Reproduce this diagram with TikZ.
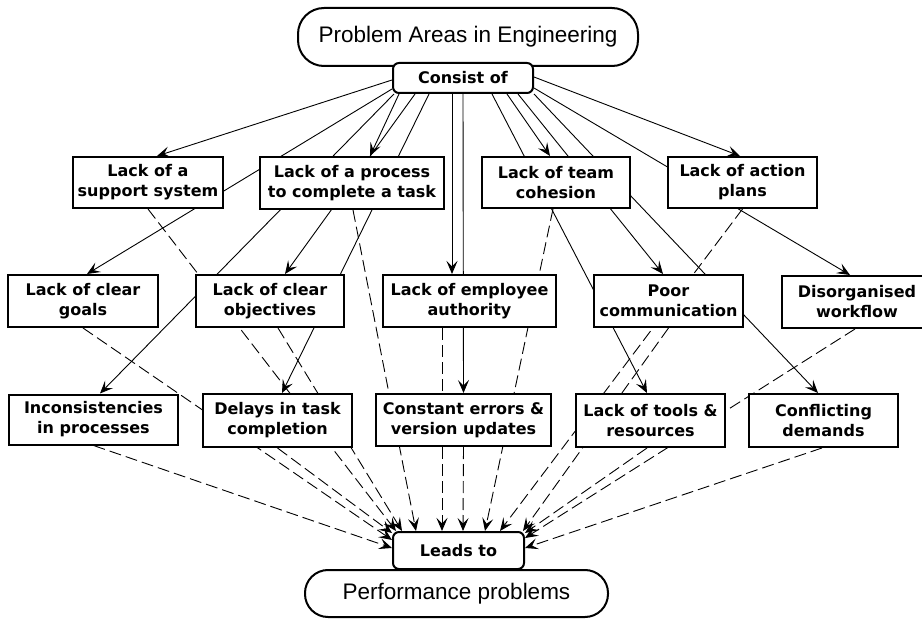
\documentclass[tikz,border=0pt]{standalone}
\usepackage{fontspec}
\newfontfamily\boxfont{DejaVu Sans}
\newfontfamily\titlefont{Liberation Sans}
\usetikzlibrary{arrows.meta,backgrounds,calc}

\begin{document}
\begin{tikzpicture}[x=1pt,y=-1pt,
  box/.style={draw, line width=2pt, fill=white, inner sep=0pt,
    minimum height=52pt, align=center,
    font=\boxfont\bfseries\fontsize{16}{20}\selectfont},
  linkbox/.style={box, rounded corners=6pt},
  headbox/.style={draw, line width=2pt, fill=white, inner sep=0pt,
    font=\titlefont\fontsize{22.5}{26}\selectfont},
  link/.style={line width=0.9pt, -{Stealth[length=13pt,width=11pt,inset=5.5pt]}},
  effect/.style={link, dash pattern=on 12pt off 5pt},
]
\useasboundingbox (0,0) rectangle (922,623);

% top and bottom terminal boxes
\node[headbox, rounded corners=26pt, minimum width=340pt, minimum height=58pt]
  (areas) at (468,37) {Problem Areas in Engineering};
\node[linkbox, minimum width=140pt, minimum height=30pt] (consist) at (463,78) {Consist of};

\node[headbox, rounded corners=23pt, minimum width=303pt, minimum height=47pt]
  (perf) at (456.5,593.5) {Performance problems};
\node[linkbox, minimum width=131pt, minimum height=37pt] (leads) at (458.5,550.5) {Leads to};

% first row
\node[box, minimum width=150pt, minimum height=51pt] (support) at (148,182.5) {Lack of a\\support system};
\node[box, minimum width=184pt] (process) at (352,183) {Lack of a process\\to complete a task};
\node[box, minimum width=148pt, minimum height=51pt] (cohesion) at (556,182.5) {Lack of team\\cohesion};
\node[box, minimum width=149pt, minimum height=51pt] (action) at (742.5,182.5) {Lack of action\\plans};

% second row
\node[box, minimum width=150pt] (goals) at (83,301) {Lack of clear\\goals};
\node[box, minimum width=148pt] (objectives) at (270,301) {Lack of clear\\objectives};
\node[box, minimum width=173pt] (authority) at (469.5,301) {Lack of employee\\authority};
\node[box, minimum width=149pt] (communication) at (668.5,301) {Poor\\communication};
\node[box, minimum width=150pt] (workflow) at (857,302) {Disorganised\\workflow};

% third row
\node[box, minimum width=169pt, minimum height=50pt] (incons) at (93.5,419.5) {Inconsistencies\\in processes};
\node[box, minimum width=149pt, minimum height=53pt] (delays) at (277.5,420.5) {Delays in task\\completion};
\node[box, minimum width=175pt] (errors) at (463.5,420) {Constant errors \&\\version updates};
\node[box, minimum width=149pt, minimum height=53pt] (tools) at (650.5,420.5) {Lack of tools \&\\resources};
\node[box, minimum width=149pt, minimum height=53pt] (conflicting) at (823.5,420.5) {Conflicting\\demands};

\begin{pgfonlayer}{background}
  \fill[white] (0,0) rectangle (922,623);

  % "Consist of" to every problem area
  \draw[link] ([yshift=-2pt]consist.west) -- ([xshift=9pt]support.north);
  \draw[link] ([yshift=-11pt]consist.west) -- ([xshift=4pt]goals.north);
  \draw[link] ([xshift=2pt]consist.south west) -- ([xshift=6.5pt]incons.north);
  \draw[link] ([xshift=7pt]consist.south west) -- ([xshift=18pt]process.north);
  \draw[link] ([xshift=23pt]consist.south west) -- ([xshift=15pt]objectives.north);
  \draw[link] ([xshift=37pt]consist.south west) -- ([xshift=4.5pt]delays.north);
  \draw[link] ([xshift=-11pt]consist.south) -- ([xshift=-17.5pt]authority.north);
  \draw[link] (consist.south) -- (errors.north);
  \draw[link] ([xshift=29pt]consist.south) -- ([xshift=-3.5pt]tools.north);
  \draw[link] ([xshift=44pt]consist.south) -- ([xshift=-6pt]cohesion.north);
  \draw[link] ([xshift=55pt]consist.south) -- ([xshift=-5.5pt]communication.north);
  \draw[link] (consist.south east) -- ([xshift=-5.5pt]conflicting.north);
  \draw[link] ([yshift=-10pt]consist.east) -- ([xshift=-7pt]workflow.north);
  \draw[link] ([yshift=1pt]consist.east) -- ([xshift=-2.5pt]action.north);

  % every problem area "Leads to"
  \draw[effect] (incons.south) -- ([yshift=2.5pt]leads.west);
  \draw[effect] (goals.south) -- ([yshift=10.5pt]leads.west);
  \draw[effect] (delays.south) -- ([yshift=-2pt]leads.north west);
  \draw[effect] (support.south) -- ([xshift=4pt]leads.north west);
  \draw[effect] ([xshift=8pt]objectives.south) -- ([xshift=10pt]leads.north west);
  \draw[effect] ([xshift=1pt]process.south) -- ([xshift=24pt]leads.north west);
  \draw[effect] ([xshift=-27.5pt]authority.south) -- ([xshift=-16.5pt]leads.north);
  \draw[effect] (errors.south) -- ([xshift=4.5pt]leads.north);
  \draw[effect] ([xshift=-3pt]cohesion.south) -- ([xshift=26.5pt]leads.north);
  \draw[effect] (action.south) -- ([xshift=41.5pt]leads.north);
  \draw[effect] (communication.south) -- ([xshift=-2pt]leads.north east);
  \draw[effect] ([xshift=-3.5pt]tools.south) -- ([yshift=-2pt]leads.north east);
  \draw[effect] ([xshift=-2pt]workflow.south) -- ([yshift=12.5pt]leads.east);
  \draw[effect] ([xshift=-1.5pt]conflicting.south) -- ([yshift=2.5pt]leads.east);
\end{pgfonlayer}
\end{tikzpicture}
\end{document}
